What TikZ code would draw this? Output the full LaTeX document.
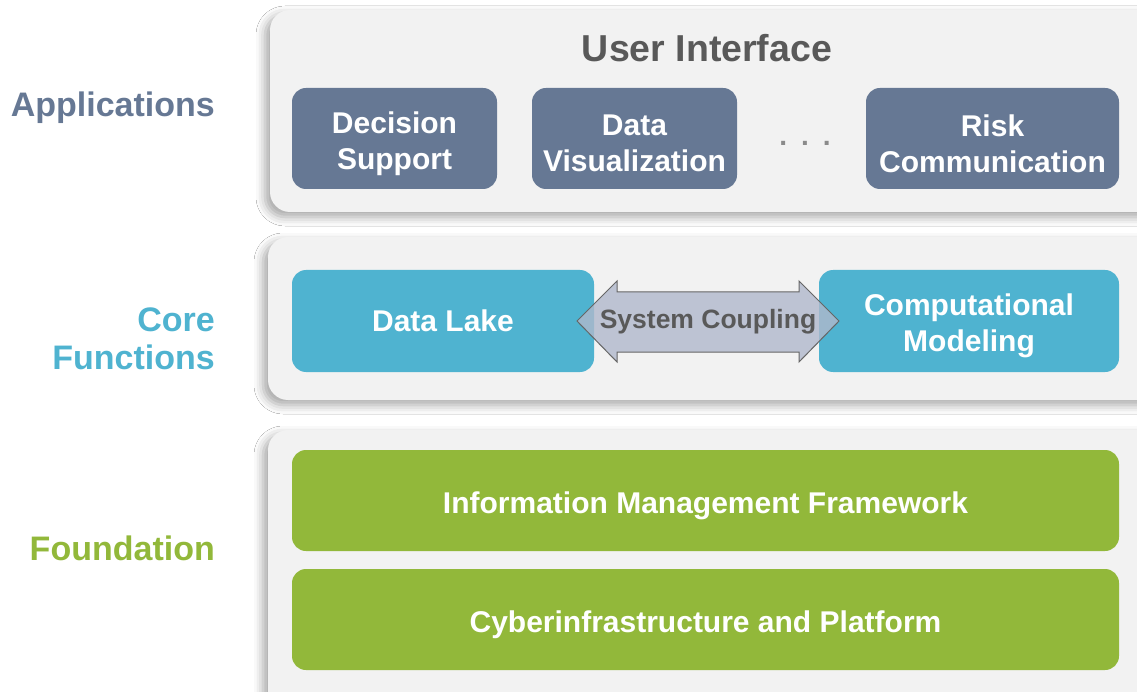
\documentclass[tikz,border=0pt]{standalone}
\usepackage{fontspec}
\setmainfont{Liberation Sans}
\usetikzlibrary{shadows.blur}
\definecolor{appc}{RGB}{102,120,148}
\definecolor{corec}{RGB}{79,179,208}
\definecolor{foundc}{RGB}{146,184,58}
\definecolor{panelc}{RGB}{242,242,242}
\definecolor{darkt}{RGB}{89,89,89}
\definecolor{arrowc}{RGB}{176,184,204}
\begin{document}
\begin{tikzpicture}[x=1pt,y=-1pt,
  panel/.style={fill=panelc,rounded corners=20pt,blur shadow={shadow xshift=-5pt,shadow yshift=-5pt,shadow blur radius=9pt,shadow opacity=35}},
  inbox/.style={rounded corners=14pt,inner sep=0pt},
  intext/.style={inner sep=0pt,text=white,font=\bfseries\fontsize{30}{36}\selectfont,align=center,yshift=-5pt},
  lbl/.style={font=\bfseries\fontsize{34}{38}\selectfont,align=right,anchor=east,inner sep=0pt}
]
\useasboundingbox (0,0) rectangle (1137,692);
\fill[white] (0,0) rectangle (1137,692);
% panels
\path[panel] (270,10) rectangle (1170,212);
\path[panel] (268,237) rectangle (1170,400);
\path[panel] (268,430) rectangle (1170,720);
% layer labels
\node[lbl,text=appc] (lapp) at (215,108) {Applications};
\node[lbl,text=corec] (lcore) at (215,339) {Core\\Functions};
\node[lbl,text=foundc] (lfound) at (215,548) {Foundation};
% applications
\node[text=darkt,font=\bfseries\fontsize{37.5}{42}\selectfont] (ui) at (707,48) {User Interface};
\node[inbox,fill=appc,minimum width=205pt,minimum height=101pt] (ds) at (394.5,138.5) {};
\node[intext] (dst) at (ds.center) {Decision\\Support};
\node[inbox,fill=appc,minimum width=205pt,minimum height=101pt] (dv) at (634.5,138.5) {};
\node[intext] (dvt) at (dv.center) {Data\\Visualization};
\node[text=darkt!70,font=\bfseries\fontsize{28}{34}\selectfont] (dots) at (805,143) {.\,\,\,.\,\,\,.};
\node[inbox,fill=appc,minimum width=253pt,minimum height=101pt] (rc) at (992.5,138.5) {};
\node[intext] (rct) at (rc.center) {Risk\\Communication};
% core
\node[inbox,fill=corec,minimum width=302pt,minimum height=102pt] (dl) at (443,321) {};
\node[intext,yshift=5pt] (dlt) at (dl.center) {Data Lake};
\node[inbox,fill=corec,minimum width=300pt,minimum height=102pt] (cm) at (969,321) {};
\node[intext] (cmt) at (cm.center) {Computational\\Modeling};
\filldraw[draw=black!60,line width=1pt,fill=arrowc,fill opacity=0.8]
  (577,321) -- (617,281) -- (617,292) -- (799,292) -- (799,281) -- (839,321)
  -- (799,362) -- (799,352) -- (617,352) -- (617,362) -- cycle;
\node[text=darkt,font=\bfseries\fontsize{26.5}{30}\selectfont] (sc) at (708,322) {System Coupling};
% foundation
\node[inbox,fill=foundc,minimum width=827pt,minimum height=101pt] (imf) at (705.5,500.5) {};
\node[intext] (imft) at (imf.center) {Information\ Management\ Framework};
\node[inbox,fill=foundc,minimum width=827pt,minimum height=101pt] (cip) at (705.5,619.5) {};
\node[intext] (cipt) at (cip.center) {Cyberinfrastructure\ and\ Platform};
\end{tikzpicture}
\end{document}
